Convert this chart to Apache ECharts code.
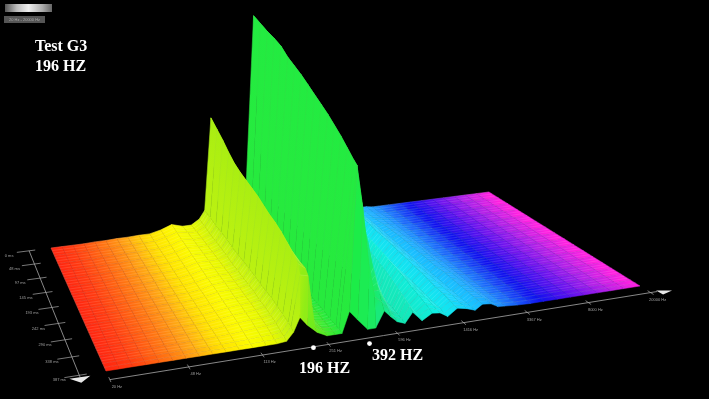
<!DOCTYPE html>
<html>
<head>
<meta charset="utf-8">
<title>Test G3</title>
<style>
html,body{margin:0;padding:0;background:#000;}
#chart{width:709px;height:399px;}
</style>
</head>
<body>
<div id="chart"></div>
<script src="https://cdn.jsdelivr.net/npm/echarts@6/dist/echarts.min.js"></script>
<script>
// frequency bins, as a fraction of the frequency axis
const freqBins = [0,.025,.05,.075,.1,.125,.15,.175,.2,.225,.25,.275,.3,.32,.338,.35,.36,.375,.395,.414,.43,.442,.453,.47,.49,.505,.519,.532,.545,.56,.573,.592,.61,.625,.64,.657,.675,.691,.704,.72,.734,.747,.77,.795,.82,.845,.87,.895,.92,.945,.97,1];
// time slices, back to front, as a fraction of the time axis
const timeSlices = [0,.0625,.125,.1875,.25,.3125,.375,.4375,.5,.5625,.625,.6875,.75,.8125,.875,.9375,.97,1];

// level of each bin over the time slices
const flat = [0,0,0,0,0,0,0,0,0,0,0,0,0,0,0,0,0,0];
const low4 = [.5,.5,.5,.5,.5,.4,.4,.3,.3,.3,.2,.2,.2,0,0,0,0,0];
const low5 = [.5,.5,.5,.5,.5,.5,.4,.4,.4,.3,.3,.2,.2,.2,0,0,0,0];
const low6 = [1,1,1,1,.8,.8,.6,.6,.5,.5,.4,.4,.3,.2,0,0,0,0];
const low7 = [1,1,1,1,1,.8,.8,.6,.6,.5,.5,.4,.4,.3,.2,0,0,0];
const low8 = [1.5,1.5,1.2,1.2,1,1,1,.8,.8,.6,.6,.5,.5,.3,.2,0,0,0];
const low9 = [1.5,1.5,1.5,1.5,1.5,1,1,1,1,1,1,1,.5,.5,.5,0,0,0];
const low10 = [4,4,3.5,3.5,3,3,3,2.5,2.5,2.5,2,2,2,1.5,1,.5,0,0];
const low11 = [8,7.5,7,7,6,6,5.5,5,5,5,4,4,3.5,3,2,1,.5,0];
const low12 = [5,5.5,6,6,6,6,6,6,6,5.5,5,5,4.5,4,3,1.5,.5,0];
const low13 = [5,5.5,6,6,6,6,6,6,6,6,5.5,5.5,5,4.5,3.5,2,1,0];
const rise14 = [10,10,9,9,9,9,8,8,8,8,8,7,7,6,5,3,2,1];
const rise15 = [18,18,17,17,17,16,16,16,16,16,15,15,15,14,13,12,11,9];
const peak196 = [110,106,102,97,93,91,90,89,88,86,84,83,81,78,75,70,62,23];
const fall17 = [30,30,32,34,36,38,40,42,44,46,48,52,56,60,64,64,60,14];
const fall18 = [10,10,10,10,10,10,9,9,9,9,9,9,9,9,8,8,7,5];
const gap19 = [4,4,4,4,3,3,3,3,3,2,2,2,2,2,1,1,1,0];
const gap20 = [3,3,3,2,2,2,2,2,1,1,1,1,1,1,0,0,0,0];
const gap21 = [6,5,5,4,4,3,3,3,3,2,2,2,2,2,1,1,1,0];
const peak392 = [207,206,205,205,204,200,198,196,193,190,187,184,180,176,171,166,164,21];
const fall23 = [90,90,90,90,92,94,96,98,100,102,105,108,112,118,125,130,120,11];
const fall24 = [30,30,30,30,32,32,34,34,36,36,38,40,44,50,56,60,60,0];
const gap25 = [20,20,20,20,20,20,20,22,22,24,24,26,28,30,30,30,28,0];
const peak3 = [120,118,115,112,110,107,105,102,100,97,95,92,85,65,45,30,22,16];
const fall27 = [60,60,60,58,55,55,55,50,50,50,48,45,40,32,25,18,14,9];
const fall28 = [30,30,30,28,28,26,26,24,24,22,20,18,16,14,10,7,5,3];
const gap29 = [12,12,12,12,12,11,11,10,10,9,8,7,6,4,3,2,1,0];
const peak4 = [40,40,40,38,38,36,35,34,32,30,28,26,24,21,18,15,13,10];
const gap31 = [8,8,8,8,8,7,7,6,6,5,5,4,4,3,2,1,1,0];
const peak5 = [26,26,25,25,24,24,23,22,21,20,18,17,15,13,11,9,8,6];
const fall33 = [14,14,14,14,13,13,12,12,11,11,10,9,8,7,7,6,5,5];
const gap34 = [5,5,5,5,5,4,4,4,4,3,3,3,2,2,1,1,0,0];
const peak6 = [14,14,14,14,14,13,13,13,12,12,11,11,10,9,9,8,7,7];
const fall36 = [8,8,8,8,8,7,7,7,7,7,6,6,6,6,6,5,5,5];
const gap37 = [3,3,3,3,3,3,3,2,2,2,2,2,2,2,2,2,2,2];
const peak7 = [1,2,3,4,5,6,6,6,6,6,6,7,7,7,7,7,7,7];
const fall39 = [1,1,2,2,3,3,4,4,4,4,4,5,5,5,5,6,6,6];
const gap40 = [0,0,1,1,1,1,1,1,1,2,2,2,2,2,2,2,2,2];
const peak8 = [0,0,.5,.5,1,1,1,1,1,1,1,1,1,1,1,1.5,1.5,1.5];
const tail42 = [0,0,0,0,.5,.5,.5,.5,.5,.5,.5,.5,.5,.5,.5,.5,.5,.5];

const levels = [flat,flat,flat,flat,low4,low5,low6,low7,low8,low9,low10,low11,low12,low13,rise14,rise15,peak196,fall17,fall18,gap19,gap20,gap21,peak392,fall23,fall24,gap25,peak3,fall27,fall28,gap29,peak4,gap31,peak5,fall33,gap34,peak6,fall36,gap37,peak7,fall39,gap40,peak8,tail42,flat,flat,flat,flat,flat,flat,flat,flat,flat];

// axis ticks
const freqTicks = [20,48,113,251,596,1416,3367,8000,20000];
const freqTickLabels = ['20 Hz','48 Hz','113 Hz','251 Hz','596 Hz','1416 Hz','3367 Hz','8000 Hz','20000 Hz'];
const timeTicks = [0,48,97,145,193,242,290,338,387];
const markerHz = [196,392];
const markerDrop = [0,5];

// rainbow along the frequency axis
const rainbow = [[0,'#ff2410'],[.05,'#ff3c10'],[.12,'#ff7412'],[.17,'#ffa414'],[.22,'#ffe000'],[.28,'#fcfc00'],[.32,'#e8f800'],[.34,'#cdf410'],[.36,'#a8ee12'],[.4,'#68ec1c'],[.44,'#28ea3c'],[.47,'#1cec48'],[.5,'#1cec58'],[.53,'#18e890'],[.56,'#14e8b8'],[.63,'#10eee8'],[.68,'#18d0ff'],[.74,'#2098ff'],[.82,'#1010ee'],[.88,'#6010ee'],[.94,'#b020e8'],[1,'#ff20e0']];

// floor corners on the page: back left, back right, front left, front right
const floor = {bl:[51,248],br:[489,192],fl:[106,371],fr:[640,286]};

function project(u,v,h){
    var bx = floor.bl[0]+(floor.br[0]-floor.bl[0])*u, by = floor.bl[1]+(floor.br[1]-floor.bl[1])*u;
    var fx = floor.fl[0]+(floor.fr[0]-floor.fl[0])*u, fy = floor.fl[1]+(floor.fr[1]-floor.fl[1])*u;
    var x = bx+(fx-bx)*v, y = by+(fy-by)*v;
    h = h||0;
    return [x+h*(.02+.055*v), y-h];
}
function freqToU(hz){
    var t = Math.log(hz/20)/Math.log(1000);
    return t/(.85+.15*t);
}
function timeToV(ms){
    var t = ms/387;
    return t/(1.19-.19*t);
}
function rainbowColor(u){
    for(var i=1;i<rainbow.length;i++){
        if(u<=rainbow[i][0]){
            var a = rainbow[i-1], b = rainbow[i];
            return echarts.color.lerp((u-a[0])/(b[0]-a[0]),[a[1],b[1]]);
        }
    }
    return rainbow[rainbow.length-1][1];
}
function line(api,p,q,color,width){
    var a = api.coord(p), b = api.coord(q);
    return {type:'line',silent:true,shape:{x1:a[0],y1:a[1],x2:b[0],y2:b[1]},style:{stroke:color,lineWidth:width}};
}

// painter's order: back slices first, high frequencies first inside a slice
var cells = [];
for(var r=0;r<timeSlices.length-1;r++){
    for(var c=freqBins.length-2;c>=0;c--){
        cells.push([c,r]);
    }
}

function renderCell(params,api){
    var c = api.value(0), r = api.value(1);
    var u0 = freqBins[c], u1 = freqBins[c+1], v0 = timeSlices[r], v1 = timeSlices[r+1];
    var a = project(u0,v0,levels[c][r]), b = project(u1,v0,levels[c+1][r]);
    var d = project(u0,v1,levels[c][r+1]), e = project(u1,v1,levels[c+1][r+1]);
    var mid = rainbowColor((u0+u1)/2);
    var ca = api.coord(a), cb = api.coord(b);
    var fill = new echarts.graphic.LinearGradient(ca[0],ca[1],cb[0],cb[1],[{offset:0,color:rainbowColor(u0)},{offset:1,color:rainbowColor(u1)}],true);
    var kids = [{
        type:'polygon',
        shape:{points:[a,b,e,d].map(function(p){return api.coord(p);})},
        style:{fill:fill,stroke:mid,lineWidth:.5}
    }];
    var steep = Math.abs(levels[c][r]-levels[c+1][r])>25;
    if(u1-u0>.016){
        kids.push(line(api,a,d,'rgba(130,130,130,.42)',.6));
    }
    var rowColor = steep ? 'rgba(120,150,120,.14)' : 'rgba(255,255,255,.24)';
    kids.push(line(api,a,b,rowColor,.5));
    // mesh rows between two slices
    if(v1-v0>.05 && !steep){
        [1/3,2/3].forEach(function(k){
            var p = [a[0]+(d[0]-a[0])*k,a[1]+(d[1]-a[1])*k];
            var q = [b[0]+(e[0]-b[0])*k,b[1]+(e[1]-b[1])*k];
            kids.push(line(api,p,q,rowColor,.5));
        });
    }
    return {type:'group',children:kids};
}

function renderFreqTick(params,api){
    var hz = api.value(0), u = freqToU(hz);
    var p = project(u,1.07), a = project(u,1.05), b = project(u,1.09);
    var pos = api.coord(p);
    return {type:'group',children:[
        line(api,a,b,'#aaa',.7),
        {type:'text',silent:true,x:pos[0]+7,y:pos[1]+7,style:{text:freqTickLabels[params.dataIndex],fill:'#a0a0a0',font:'4px "Liberation Sans"',align:'center',verticalAlign:'middle'}}
    ]};
}
function renderTimeTick(params,api){
    var ms = api.value(0), v = timeToV(ms);
    var a = project(-.078,v), b = project(-.036,v), p = project(-.05,v);
    var pos = api.coord(p);
    return {type:'group',children:[
        line(api,a,b,'#aaa',.7),
        {type:'text',silent:true,x:pos[0]-20,y:pos[1]+5,style:{text:ms+' ms',fill:'#a0a0a0',font:'4px "Liberation Sans"',align:'center',verticalAlign:'middle'}}
    ]};
}
function renderAxes(params,api){
    var tri = function(pts){
        return {type:'polygon',silent:true,shape:{points:pts.map(function(p){return api.coord(p);})},style:{fill:'#e8e8e8'}};
    };
    var timeEnd = project(-.05,1.02), freqEnd = project(1.012,1.07);
    return {type:'group',children:[
        line(api,project(0,1.07),freqEnd,'#aaa',.8),
        line(api,project(-.05,0),timeEnd,'#aaa',.8),
        tri([[timeEnd[0]-11,timeEnd[1]+1],[timeEnd[0]+10,timeEnd[1]-2],[timeEnd[0]+1,timeEnd[1]+5]]),
        tri([[freqEnd[0]-1,freqEnd[1]-1],[freqEnd[0]+15,freqEnd[1]-1],[freqEnd[0]+6,freqEnd[1]+3]])
    ]};
}
function renderMarker(params,api){
    var p = api.coord(project(freqToU(api.value(0)),1.07));
    return {type:'circle',silent:true,shape:{cx:p[0]+5,cy:p[1]+markerDrop[params.dataIndex],r:2.4},style:{fill:'#fff'}};
}

function textEl(text,x,y){
    return {type:'text',silent:true,x:x,y:y,style:{text:text,fill:'#fff',font:'bold 16px "Liberation Serif"',verticalAlign:'bottom'}};
}

var chart = echarts.init(document.getElementById('chart'));
chart.setOption({
    backgroundColor:'#000',
    animation:false,
    grid:{left:0,right:0,top:0,bottom:0},
    xAxis:{type:'value',min:0,max:709,show:false},
    yAxis:{type:'value',min:0,max:399,inverse:true,show:false},
    series:[
        {type:'custom',name:'surface',renderItem:renderCell,data:cells,clip:false,silent:true,progressive:0},
        {type:'custom',name:'axes',renderItem:renderAxes,data:[[0,0]],clip:false,silent:true},
        {type:'custom',name:'freq ticks',renderItem:renderFreqTick,data:freqTicks.map(function(f){return [f,0];}),clip:false,silent:true},
        {type:'custom',name:'time ticks',renderItem:renderTimeTick,data:timeTicks.map(function(t){return [t,0];}),clip:false,silent:true},
        {type:'custom',name:'markers',renderItem:renderMarker,data:markerHz.map(function(f){return [f,0];}),clip:false,silent:true}
    ],
    graphic:[
        {type:'rect',silent:true,shape:{x:5,y:4,width:47,height:8},style:{fill:new echarts.graphic.LinearGradient(0,0,1,0,[{offset:0,color:'#555'},{offset:.25,color:'#bbb'},{offset:.5,color:'#eee'},{offset:.8,color:'#aaa'},{offset:1,color:'#666'}])}},
        {type:'rect',silent:true,shape:{x:4,y:16,width:41,height:7},style:{fill:'#555'}},
        {type:'text',silent:true,x:24.5,y:19.5,style:{text:'20 Hz - 20000 Hz',fill:'#aaa',font:'4px "Liberation Sans"',align:'center',verticalAlign:'middle'}},
        textEl('Test G3',35,55),
        textEl('196 HZ',35,75),
        textEl('196 HZ',299,377),
        textEl('392 HZ',372,364)
    ]
});
</script>
</body>
</html>
